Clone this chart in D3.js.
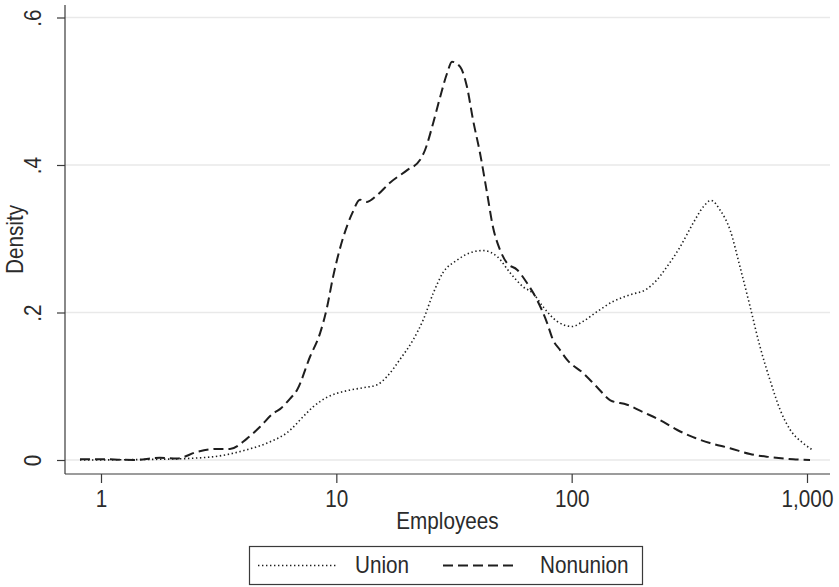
<!DOCTYPE html>
<html>
<head>
<meta charset="utf-8">
<script src="https://cdn.jsdelivr.net/npm/d3@7/dist/d3.min.js"></script>
<style>
  html, body { margin: 0; padding: 0; background: #fff; }
  svg text { font-family: "Liberation Sans", Arial, sans-serif; fill: #2b2b2b; }
</style>
</head>
<body>
<svg id="chart" width="839" height="587"></svg>
<script>
// ---- data ----
const nonunionEmployees = [0.814, 1.02, 1.37, 1.78, 2.10, 2.56, 3.11, 3.53, 4.17, 4.74, 5.38, 5.76, 6.35, 6.81, 7.73, 8.53, 9.13, 9.68, 10.7, 11.7, 12.6, 13.5, 14.9, 16.9, 20.0, 22.7, 23.8, 25.8, 27.6, 29.6, 31.0, 33.6, 35.9, 38.1, 40.8, 43.7, 46.3, 49.6, 53.1, 58.6, 64.6, 71.3, 78.6, 83.3, 89.3, 95.5, 111.7, 128, 146, 172, 201, 238, 280, 328, 387, 471, 573, 697, 873, 1030];
const nonunionDensity = [0.001, 0.001, 0.000, 0.003, 0.002, 0.011, 0.015, 0.015, 0.029, 0.045, 0.063, 0.069, 0.083, 0.095, 0.140, 0.172, 0.207, 0.248, 0.302, 0.335, 0.353, 0.350, 0.359, 0.376, 0.393, 0.407, 0.420, 0.457, 0.492, 0.525, 0.540, 0.533, 0.506, 0.461, 0.416, 0.362, 0.316, 0.285, 0.267, 0.258, 0.240, 0.217, 0.186, 0.163, 0.149, 0.136, 0.118, 0.099, 0.081, 0.075, 0.065, 0.054, 0.041, 0.031, 0.023, 0.016, 0.008, 0.004, 0.001, 0.000];

const unionEmployees = [0.814, 1.78, 2.91, 4.17, 5.08, 6.17, 7.50, 7.96, 9.13, 11.1, 13.0, 14.9, 16.4, 18.6, 21.2, 23.4, 25.8, 28.4, 32.6, 37.0, 42.0, 48.2, 54.7, 62.1, 68.5, 75.5, 86.7, 100.4, 111.8, 128, 150, 177, 209, 230, 254, 289, 328, 362, 391, 427, 471, 519, 573, 631, 697, 769, 848, 962, 1052];
const unionDensity = [0.000, 0.001, 0.004, 0.014, 0.023, 0.037, 0.064, 0.072, 0.085, 0.094, 0.098, 0.102, 0.113, 0.136, 0.163, 0.190, 0.226, 0.254, 0.271, 0.281, 0.284, 0.276, 0.254, 0.235, 0.226, 0.208, 0.188, 0.181, 0.188, 0.201, 0.215, 0.224, 0.232, 0.244, 0.262, 0.289, 0.321, 0.343, 0.352, 0.339, 0.312, 0.262, 0.208, 0.154, 0.108, 0.068, 0.041, 0.023, 0.014];

const xTickValues = [1, 10, 100, 1000];
const xTickLabels = ["1", "10", "100", "1,000"];
const yTickValues = [0, 0.2, 0.4, 0.6];
const yTickLabels = ["0", ".2", ".4", ".6"];
const seriesNames = ["Union", "Nonunion"];
const xTitle = "Employees";
const yTitle = "Density";

// ---- layout ----
const plotLeft = 65, plotRight = 830, plotTop = 5, plotBottom = 474;
const FS = "23px", SX = 0.9;
const svg = d3.select("#chart");

const x = d3.scaleLog().domain([1, 1000]).range([101, 807]);
const y = d3.scaleLinear().domain([0, 0.6]).range([460, 17.5]);

// gridlines
svg.append("g").selectAll("line").data(yTickValues).join("line")
  .attr("x1", plotLeft).attr("x2", plotRight)
  .attr("y1", d => y(d)).attr("y2", d => y(d))
  .attr("stroke", "#e9e9e9").attr("stroke-width", 1.5);

// axes
const xAxis = d3.axisBottom(x).tickValues(xTickValues)
  .tickFormat((d, i) => xTickLabels[i]).tickSize(9).tickSizeOuter(0);
const gx = svg.append("g").attr("transform", `translate(0,${plotBottom})`).call(xAxis);
gx.select(".domain").remove();
gx.append("line").attr("x1", plotLeft).attr("x2", plotRight).attr("y1", 0).attr("y2", 0)
  .attr("stroke", "#3a3a3a").attr("stroke-width", 1.2);
gx.selectAll(".tick line").attr("stroke", "#3a3a3a").attr("stroke-width", 1.2);
gx.selectAll(".tick text").attr("y", null).attr("dy", null)
  .attr("transform", `translate(0,32.7) scale(${SX},1)`)
  .style("font-size", FS).style("font-family", '"Liberation Sans", Arial, sans-serif').attr("fill", "#2b2b2b");

const yAxis = d3.axisLeft(y).tickValues(yTickValues)
  .tickFormat((d, i) => yTickLabels[i]).tickSize(8).tickSizeOuter(0);
const gy = svg.append("g").attr("transform", `translate(${plotLeft},0)`).call(yAxis);
gy.select(".domain").remove();
gy.append("line").attr("x1", 0).attr("x2", 0).attr("y1", plotTop).attr("y2", plotBottom)
  .attr("stroke", "#3a3a3a").attr("stroke-width", 1.2);
gy.selectAll(".tick line").attr("stroke", "#3a3a3a").attr("stroke-width", 1.2);
gy.selectAll(".tick text")
  .attr("x", null).attr("dy", null)
  .attr("text-anchor", "middle")
  .attr("transform", `translate(${40.5 - plotLeft},0) rotate(-90) scale(${SX},1)`)
  .style("font-size", FS).style("font-family", '"Liberation Sans", Arial, sans-serif').attr("fill", "#2b2b2b");

// axis titles
svg.append("text").attr("transform", `translate(${(plotLeft + plotRight) / 2},529) scale(${SX},1)`)
  .attr("text-anchor", "middle").style("font-size", FS).text(xTitle);
svg.append("text").attr("transform", `translate(23,${(plotTop + plotBottom) / 2}) rotate(-90) scale(${SX},1)`)
  .attr("text-anchor", "middle").style("font-size", FS).text(yTitle);

// curves
const line = d3.line().x(d => x(d[0])).y(d => y(d[1])).curve(d3.curveMonotoneX);
const unionData = unionEmployees.map((e, i) => [e, unionDensity[i]]);
const nonunionData = nonunionEmployees.map((e, i) => [e, nonunionDensity[i]]);

svg.append("path").datum(unionData).attr("d", line)
  .attr("fill", "none").attr("stroke", "#1e1e1e").attr("stroke-width", 1.6)
  .attr("stroke-dasharray", "1.4,2.6");
svg.append("path").datum(nonunionData).attr("d", line)
  .attr("fill", "none").attr("stroke", "#1e1e1e").attr("stroke-width", 2)
  .attr("stroke-dasharray", "10,5");

// legend
const lg = svg.append("g");
lg.append("rect").attr("x", 249.5).attr("y", 546.5).attr("width", 393).attr("height", 38)
  .attr("fill", "#fff").attr("stroke", "#3a3a3a").attr("stroke-width", 1.2);
lg.append("line").attr("x1", 258).attr("x2", 338).attr("y1", 565.5).attr("y2", 565.5)
  .attr("stroke", "#1e1e1e").attr("stroke-width", 1.6).attr("stroke-dasharray", "1.4,2.6");
lg.append("text").attr("transform", `translate(355,572.7) scale(${SX},1)`).style("font-size", FS).text(seriesNames[0]);
lg.append("line").attr("x1", 443).attr("x2", 518).attr("y1", 565.5).attr("y2", 565.5)
  .attr("stroke", "#1e1e1e").attr("stroke-width", 2).attr("stroke-dasharray", "10,5");
lg.append("text").attr("transform", `translate(540,572.7) scale(${SX},1)`).style("font-size", FS).text(seriesNames[1]);
</script>
</body>
</html>
